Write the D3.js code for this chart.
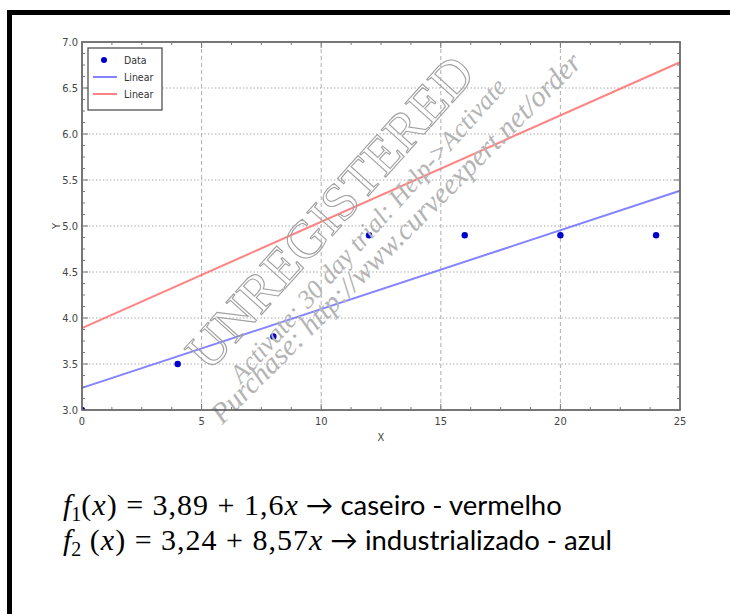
<!DOCTYPE html>
<html><head><meta charset="utf-8">
<script src="https://cdn.jsdelivr.net/npm/d3@7/dist/d3.min.js"></script>
<style>body{margin:0;background:#fff}svg{display:block}</style>
</head><body><svg id="c" width="730" height="614"></svg>
<script>
const xData = [0, 4, 8, 12, 16, 20, 24];
const yData = [3.0, 3.5, 3.8, 4.9, 4.9, 4.9, 4.9];
const fitNames = ["Linear", "Linear"];
const fitIntercepts = [3.24, 3.89];
const fitSlopes = [0.0857, 0.1156];
const xTicks = [0, 5, 10, 15, 20, 25];
const yTicks = [3.0, 3.5, 4.0, 4.5, 5.0, 5.5, 6.0, 6.5, 7.0];
const legendLabels = ["Data", "Linear", "Linear"];
const formulaLines = [
  {sub: "1", gap: "", math: "(x) = 3,89 + 1,6x", text: " → caseiro - vermelho"},
  {sub: "2", gap: " ", math: "(x) = 3,24 + 8,57x", text: "  → industrializado - azul"}
];
const watermark = ["UNREGISTERED", "Activate: 30 day trial: Help->Activate", "Purchase: http://www.curveexpert.net/order"];

const svg = d3.select("#c");
// outer frame
svg.append("rect").attr("x", 9.5).attr("y", 12.5).attr("width", 800).attr("height", 700)
  .attr("fill", "none").attr("stroke", "#000").attr("stroke-width", 5);

const L = 82, R = 680, T = 42, B = 410;
const x = d3.scaleLinear().domain([0, 25]).range([L, R]);
const y = d3.scaleLinear().domain([3, 7]).range([B, T]);

svg.append("clipPath").attr("id", "plotclip").append("rect")
  .attr("x", L).attr("y", T).attr("width", R - L).attr("height", B - T);

const g = svg.append("g");
// grid
g.selectAll(".vg").data(xTicks.slice(1, -1)).join("line")
  .attr("x1", d => x(d)).attr("x2", d => x(d)).attr("y1", T).attr("y2", B)
  .attr("stroke", "#9a9a9a").attr("stroke-width", 0.8).attr("stroke-dasharray", "4,3");
g.selectAll(".hg").data(yTicks.slice(1, -1)).join("line")
  .attr("y1", d => y(d)).attr("y2", d => y(d)).attr("x1", L).attr("x2", R)
  .attr("stroke", "#a0a0a0").attr("stroke-width", 1).attr("stroke-dasharray", "1.3,2.2");

// fit lines
const line = d3.line().x(d => x(d[0])).y(d => y(d[1]));
const fitColors = ["rgba(100,100,255,0.8)", "rgba(255,100,100,0.8)"];
fitIntercepts.forEach((b, i) => {
  const dom = x.domain();
  g.append("path").datum(dom.map(v => [v, b + fitSlopes[i] * v]))
    .attr("d", line).attr("fill", "none").attr("stroke", fitColors[i]).attr("stroke-width", 2);
});

// watermark
const wm = svg.append("g");
wm.append("text").attr("transform", "translate(334,216) rotate(-48)")
  .attr("text-anchor", "middle").attr("dominant-baseline", "middle")
  .attr("font-family", "Liberation Serif, serif").attr("font-size", 53)
  .attr("fill", "none").attr("stroke", "#a0a0a0").attr("stroke-width", 1.1)
  .text(watermark[0]);
wm.append("text").attr("transform", "translate(370,232) rotate(-48)")
  .attr("text-anchor", "middle").attr("dominant-baseline", "middle")
  .attr("font-family", "Liberation Serif, serif").attr("font-style", "italic").attr("font-size", 26)
  .attr("fill", "#b4b4b4").text(watermark[1]);
wm.append("text").attr("transform", "translate(398,240) rotate(-45)")
  .attr("text-anchor", "middle").attr("dominant-baseline", "middle")
  .attr("font-family", "Liberation Serif, serif").attr("font-style", "italic").attr("font-size", 29)
  .attr("fill", "#b4b4b4").text(watermark[2]);

// data points
g.append("g").attr("clip-path", "url(#plotclip)").selectAll(".pt").data(xData).join("circle")
  .attr("cx", (d) => x(d)).attr("cy", (d, i) => y(yData[i])).attr("r", 3.2).attr("fill", "#0000cc");

// frame of plot
svg.append("rect").attr("x", L).attr("y", T).attr("width", R - L).attr("height", B - T)
  .attr("fill", "none").attr("stroke", "#555").attr("stroke-width", 1.6);

// axes with inward ticks
const ax = svg.append("g").attr("font-family", "DejaVu Sans Condensed, Liberation Sans, sans-serif")
  .attr("font-size", 11).attr("fill", "#444");
const xMinor = d3.range(0, 25.01, 1.25);
const yMinor = d3.range(3, 7.01, 0.125);
[B, T].forEach((yy, k) => {
  ax.selectAll(null).data(xMinor).join("line")
    .attr("x1", d => x(d)).attr("x2", d => x(d))
    .attr("y1", yy).attr("y2", d => yy + (k ? 1 : -1) * (xTicks.includes(d) ? 6 : 3))
    .attr("stroke", "#777").attr("stroke-width", 1);
});
[L, R].forEach((xx, k) => {
  ax.selectAll(null).data(yMinor).join("line")
    .attr("y1", d => y(d)).attr("y2", d => y(d))
    .attr("x1", xx).attr("x2", d => xx + (k ? -1 : 1) * (Math.abs((d * 2) - Math.round(d * 2)) < 1e-6 ? 6 : 3))
    .attr("stroke", "#777").attr("stroke-width", 1);
});
ax.selectAll(".xl").data(xTicks).join("text")
  .attr("x", d => x(d)).attr("y", B + 15).attr("text-anchor", "middle").text(d => d3.format("d")(d));
ax.selectAll(".yl").data(yTicks).join("text")
  .attr("x", L - 4).attr("y", d => y(d) + 4).attr("text-anchor", "end").text(d => d3.format(".1f")(d));
ax.append("text").attr("x", (L + R) / 2).attr("y", B + 31).attr("text-anchor", "middle").text("X");
ax.append("text").attr("transform", `translate(${L - 22},${(T + B) / 2}) rotate(-90)`)
  .attr("text-anchor", "middle").text("Y");

// legend
const lg = svg.append("g").attr("font-family", "DejaVu Sans Condensed, Liberation Sans, sans-serif")
  .attr("font-size", 10.5).attr("fill", "#333");
lg.append("rect").attr("x", 88).attr("y", 48).attr("width", 74).attr("height", 62)
  .attr("fill", "#fff").attr("stroke", "#444").attr("stroke-width", 1.2);
legendLabels.forEach((lab, i) => {
  const yy = 60 + i * 17;
  if (i === 0) lg.append("circle").attr("cx", 104).attr("cy", yy).attr("r", 3).attr("fill", "#0000cc");
  else lg.append("line").attr("x1", 93).attr("x2", 117).attr("y1", yy).attr("y2", yy)
    .attr("stroke", fitColors[i - 1]).attr("stroke-width", 2);
  lg.append("text").attr("x", 124).attr("y", yy + 4).text(lab);
});

// formulas
formulaLines.forEach((f, i) => {
  const t = svg.append("text").attr("x", 63).attr("y", 515 + i * 35).attr("font-size", 30).attr("fill", "#000");
  t.append("tspan").attr("font-family", "Liberation Serif, serif").attr("font-style", "italic").text("f");
  t.append("tspan").attr("font-family", "Liberation Serif, serif").attr("font-size", 20).attr("dy", 6).text(f.sub);
  const m = t.append("tspan").attr("font-family", "Liberation Serif, serif").attr("dy", -6).attr("letter-spacing", 1);
  (f.gap + f.math).split(/(x)/).forEach(p => {
    if (p) m.append("tspan").attr("font-style", p === "x" ? "italic" : null).text(p);
  });
  t.append("tspan").attr("font-family", "Lato, Open Sans, sans-serif").attr("font-size", 27.5).text(f.text);
});
</script></body></html>
